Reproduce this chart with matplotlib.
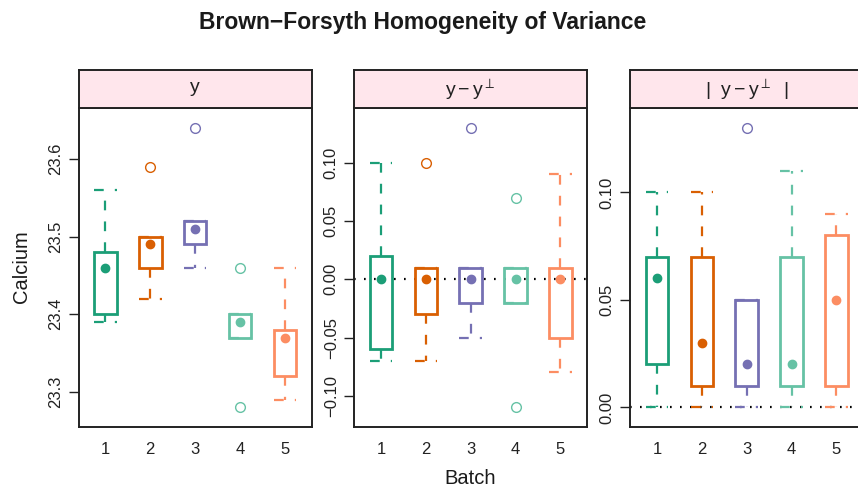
import numpy as np
import matplotlib
matplotlib.use("Agg")
import matplotlib.pyplot as plt

plt.rcParams['font.family'] = ['Liberation Sans', 'DejaVu Sans']
plt.rcParams['mathtext.fontset'] = 'custom'
plt.rcParams['mathtext.rm'] = 'Liberation Sans'
plt.rcParams['mathtext.it'] = 'Liberation Sans'
plt.rcParams['lines.scale_dashes'] = False

# ---- data ----
batches = [1, 2, 3, 4, 5]
colors = ['#1B9E77', '#D95F02', '#7570B3', '#66C2A5', '#FC8D62']
panel_titles = [r'$\mathrm{y}$',
                r'$\mathrm{y} - \mathrm{y}^{\perp}$',
                r'$|\ \ \mathrm{y} - \mathrm{y}^{\perp}\ \ |$']

# y
y_wlo = [23.39, 23.42, 23.46, 23.37, 23.29]
y_q1 = [23.40, 23.46, 23.49, 23.37, 23.32]
y_med = [23.46, 23.49, 23.51, 23.39, 23.37]
y_q3 = [23.48, 23.50, 23.52, 23.40, 23.38]
y_whi = [23.56, 23.50, 23.52, 23.40, 23.46]
y_out = [[], [23.59], [23.64], [23.46, 23.28], []]

# y - median
d_wlo = [-0.07, -0.07, -0.05, -0.02, -0.08]
d_q1 = [-0.06, -0.03, -0.02, -0.02, -0.05]
d_med = [0.00, 0.00, 0.00, 0.00, 0.00]
d_q3 = [0.02, 0.01, 0.01, 0.01, 0.01]
d_whi = [0.10, 0.01, 0.01, 0.01, 0.09]
d_out = [[], [0.10], [0.13], [0.07, -0.11], []]

# |y - median|
a_wlo = [0.00, 0.00, 0.00, 0.00, 0.00]
a_q1 = [0.02, 0.01, 0.01, 0.01, 0.01]
a_med = [0.06, 0.03, 0.02, 0.02, 0.05]
a_q3 = [0.07, 0.07, 0.05, 0.07, 0.08]
a_whi = [0.10, 0.10, 0.05, 0.11, 0.09]
a_out = [[], [], [0.13], [], []]

panels = [
    (y_wlo, y_q1, y_med, y_q3, y_whi, y_out, [23.3, 23.4, 23.5, 23.6], '%.1f', False),
    (d_wlo, d_q1, d_med, d_q3, d_whi, d_out, [-0.10, -0.05, 0.0, 0.05, 0.10], '%.2f', True),
    (a_wlo, a_q1, a_med, a_q3, a_whi, a_out, [0.0, 0.05, 0.10], '%.2f', True),
]

W, H = 858, 487
fig = plt.figure(figsize=(W / 100, H / 100), dpi=100)

lefts = [78.5, 354, 630]
pw = 233.3
ax_top, ax_bot = 108.3, 427
strip_top = 70.3
box_w = 0.5
dash = (0, (7, 8))

for i, (wlo, q1, med, q3, whi, out, ticks, fmt, zero) in enumerate(panels):
    ax = fig.add_axes([lefts[i] / W, 1 - ax_bot / H, pw / W, (ax_bot - ax_top) / H])
    sx = fig.add_axes([lefts[i] / W, 1 - ax_top / H, pw / W, (ax_top - strip_top) / H])

    allv = list(wlo) + list(whi) + [v for o in out for v in o]
    lo, hi = min(allv), max(allv)
    pad = (hi - lo) * 0.07
    ax.set_ylim(lo - pad, hi + pad)
    ax.set_xlim(0.4, 5.6)

    if zero:
        ax.axhline(0, color='black', lw=1.6, linestyle=(0, (1.2, 6)), zorder=1)

    for j, x in enumerate(batches):
        c = colors[j]
        # whiskers + caps
        ax.plot([x, x], [q3[j], whi[j]], color=c, lw=1.6, linestyle=dash, zorder=2)
        ax.plot([x, x], [q1[j], wlo[j]], color=c, lw=1.6, linestyle=dash, zorder=2)
        ax.plot([x - box_w / 2, x + box_w / 2], [whi[j], whi[j]], color=c, lw=1.6,
                linestyle=dash, zorder=2)
        ax.plot([x - box_w / 2, x + box_w / 2], [wlo[j], wlo[j]], color=c, lw=1.6,
                linestyle=dash, zorder=2)
        # box
        ax.add_patch(plt.Rectangle((x - box_w / 2, q1[j]), box_w, q3[j] - q1[j],
                                   fill=False, edgecolor=c, lw=2.0, zorder=3))
        ax.plot(x, med[j], 'o', color=c, ms=6, zorder=4)
        if out[j]:
            ax.plot([x] * len(out[j]), out[j], 'o', mfc='none', mec=c, ms=7,
                    mew=1.0, zorder=4)

    ax.set_yticks(ticks)
    ax.set_yticklabels([(fmt % t).replace('-', '\u2212') for t in ticks],
                       rotation=90, va='center', fontsize=12)
    ax.set_xticks(batches)
    ax.set_xticklabels([str(b) for b in batches], fontsize=12)
    ax.tick_params(axis='y', length=7, width=1.0, pad=4, colors='#222222')
    ax.tick_params(axis='x', length=0, pad=11, colors='#222222')
    for s in ax.spines.values():
        s.set_linewidth(1.4)
        s.set_color('#222222')

    sx.set_facecolor('#ffe6ec')
    sx.set_xticks([])
    sx.set_yticks([])
    for s in sx.spines.values():
        s.set_linewidth(1.4)
        s.set_color('#222222')
    sx.text(0.5, 0.5, panel_titles[i], ha='center', va='center',
            fontsize=14, transform=sx.transAxes, color='#222222')

fig.text(423 / W, 1 - 22 / H, 'Brown\u2212Forsyth Homogeneity of Variance',
         ha='center', va='center', fontsize=16.5, fontweight='bold', color='#1a1a1a')
fig.text(22 / W, 1 - 267 / H, 'Calcium', rotation=90, ha='center', va='center',
         fontsize=14.5, color='#1a1a1a')
fig.text(470 / W, 1 - 478 / H, 'Batch', ha='center', va='center',
         fontsize=14.5, color='#1a1a1a')

fig.savefig('out.png', dpi=100)
